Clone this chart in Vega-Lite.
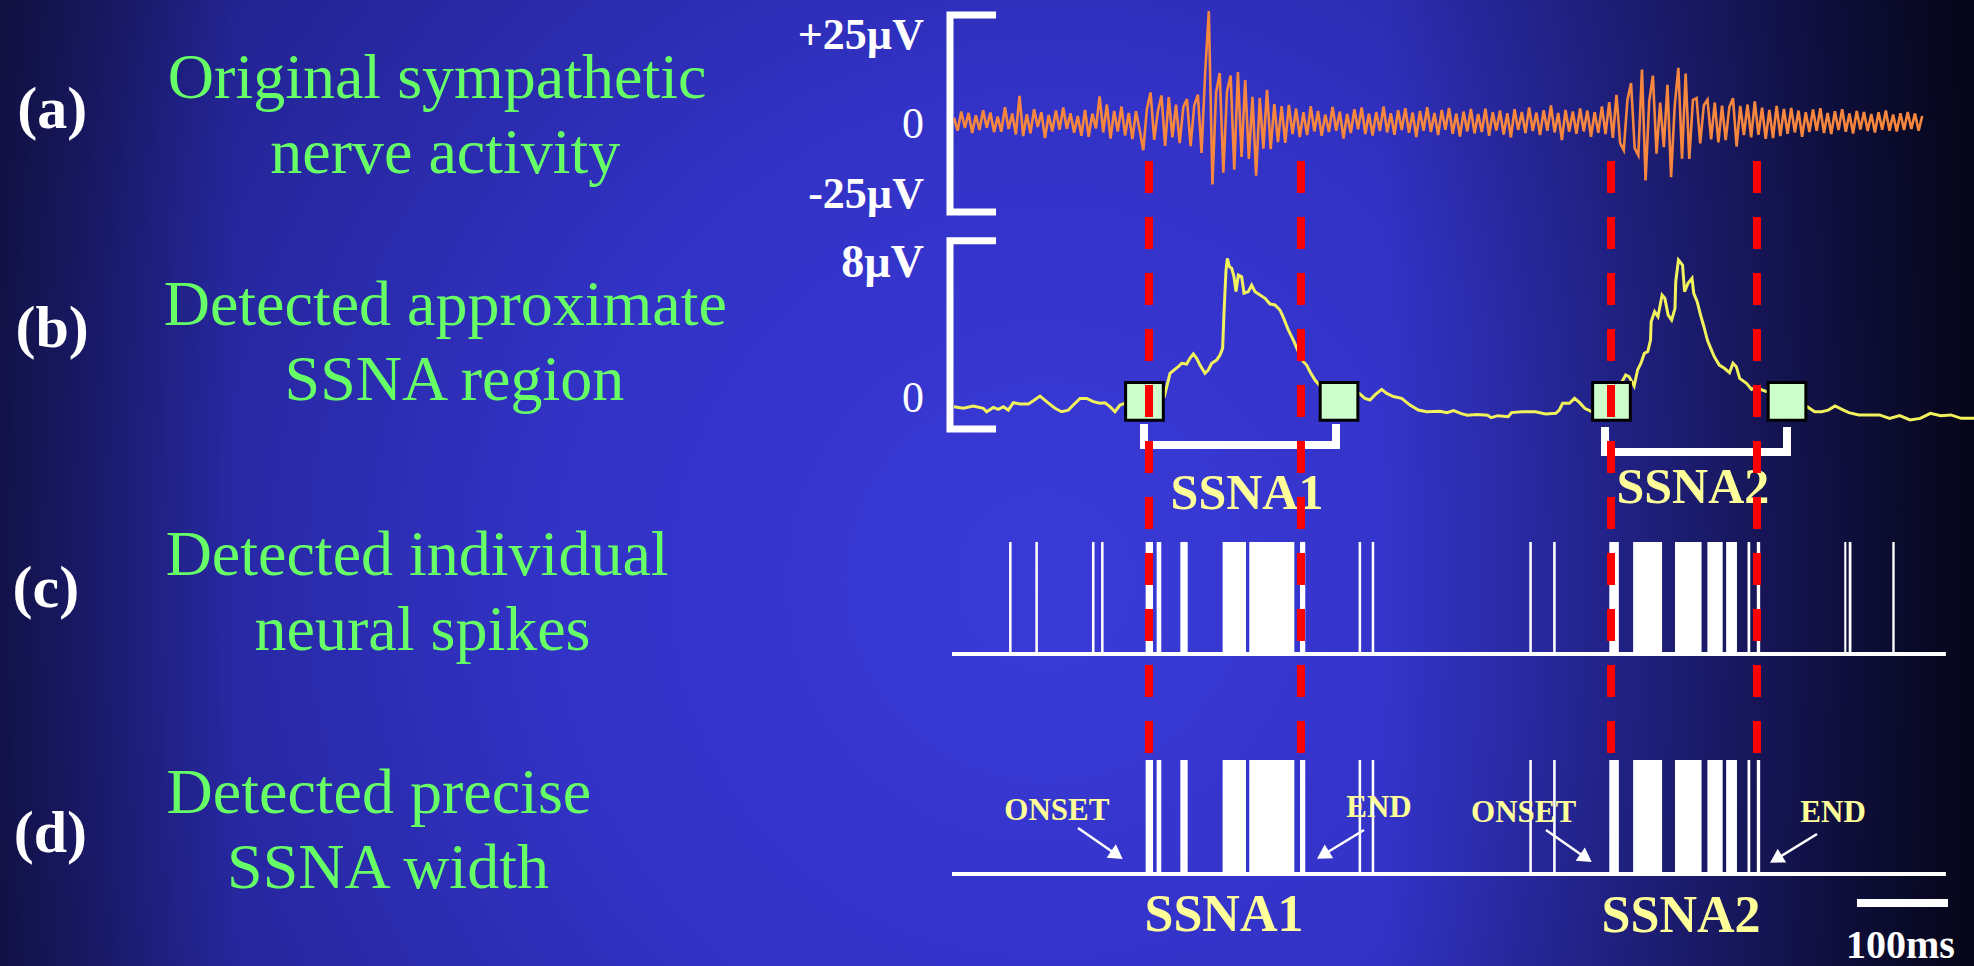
{
"$schema":"https://vega.github.io/schema/vega-lite/v6.json",
"width":1974,"height":966,"autosize":{"type":"none"},"padding":0,
"background":"#161650",
"config":{"view":{"stroke":null}},
"datasets":{
"frame":[{"t0":-1048.35,"t1":1120.88}],
"sigA":[{"t":0,"v":1.2},{"t":4,"v":-2.6},{"t":8,"v":3.1},{"t":12,"v":-1.8},{"t":16,"v":2.7},{"t":20,"v":-3.3},{"t":24,"v":2.0},{"t":28,"v":-2.4},{"t":32,"v":3.5},{"t":36,"v":-1.7},
{"t":40,"v":2.8},{"t":44,"v":-3.0},{"t":48,"v":1.6},{"t":52,"v":-2.9},{"t":56,"v":4.4},{"t":60,"v":-2.1},{"t":64,"v":2.5},{"t":68,"v":-3.7},{"t":72,"v":7.8},{"t":76,"v":-4.2},
{"t":80,"v":2.3},{"t":84,"v":-3.4},{"t":88,"v":3.8},{"t":92,"v":-1.5},{"t":96,"v":2.9},{"t":100,"v":-4.8},{"t":104,"v":2.1},{"t":108,"v":-2.8},{"t":112,"v":3.4},{"t":116,"v":-2.3},
{"t":120,"v":4.3},{"t":124,"v":-2.0},{"t":128,"v":2.6},{"t":132,"v":-3.2},{"t":136,"v":1.8},{"t":140,"v":-4.1},{"t":144,"v":3.6},{"t":148,"v":-4.4},{"t":152,"v":2.5},{"t":156,"v":-1.9},
{"t":160,"v":7.6},{"t":164,"v":-3.1},{"t":168,"v":5.2},{"t":172,"v":-4.9},{"t":176,"v":3.3},{"t":180,"v":-2.8},{"t":184,"v":4.6},{"t":188,"v":-4.0},{"t":192,"v":2.7},{"t":196,"v":-5.1},
{"t":200,"v":3.2},{"t":204,"v":-2.4},{"t":208,"v":-8.4},{"t":212,"v":3.9},{"t":216,"v":8.8},{"t":220,"v":-5.3},{"t":224,"v":3.1},{"t":228,"v":7.9},{"t":232,"v":-7.1},{"t":236,"v":7.4},
{"t":240,"v":-4.6},{"t":244,"v":5.2},{"t":248,"v":-6.3},{"t":252,"v":4.4},{"t":256,"v":6.8},{"t":260,"v":-7.2},{"t":264,"v":5.0},{"t":268,"v":8.1},{"t":272,"v":-9.2},{"t":276,"v":14.6},
{"t":280,"v":33.0},{"t":284,"v":-18.6},{"t":288,"v":8.7},{"t":292,"v":14.6},{"t":296,"v":-15.1},{"t":300,"v":9.1},{"t":304,"v":13.8},{"t":308,"v":-14.2},{"t":312,"v":14.9},{"t":316,"v":-10.4},
{"t":320,"v":12.5},{"t":324,"v":-11.0},{"t":328,"v":7.5},{"t":332,"v":-16.0},{"t":336,"v":7.2},{"t":340,"v":-7.9},{"t":344,"v":9.6},{"t":348,"v":-8.1},{"t":352,"v":5.3},{"t":356,"v":-6.0},
{"t":360,"v":4.7},{"t":364,"v":-6.2},{"t":368,"v":5.1},{"t":372,"v":-3.6},{"t":376,"v":4.0},{"t":380,"v":-4.5},{"t":384,"v":2.9},{"t":388,"v":-3.9},{"t":392,"v":4.7},{"t":396,"v":-2.8},
{"t":400,"v":3.3},{"t":404,"v":-4.1},{"t":408,"v":2.2},{"t":412,"v":-3.0},{"t":416,"v":4.5},{"t":420,"v":-2.6},{"t":424,"v":3.1},{"t":428,"v":-4.9},{"t":432,"v":2.4},{"t":436,"v":-3.3},
{"t":440,"v":3.8},{"t":444,"v":-2.2},{"t":448,"v":4.3},{"t":452,"v":-3.6},{"t":456,"v":2.5},{"t":460,"v":-4.0},{"t":464,"v":3.0},{"t":468,"v":-2.7},{"t":472,"v":4.6},{"t":476,"v":-3.1},
{"t":480,"v":2.6},{"t":484,"v":-3.8},{"t":488,"v":3.5},{"t":492,"v":-2.4},{"t":496,"v":4.1},{"t":500,"v":-3.2},{"t":504,"v":2.8},{"t":508,"v":-4.5},{"t":512,"v":3.3},{"t":516,"v":-2.6},
{"t":520,"v":4.4},{"t":524,"v":-3.0},{"t":528,"v":2.7},{"t":532,"v":-3.9},{"t":536,"v":3.6},{"t":540,"v":-2.3},{"t":544,"v":4.2},{"t":548,"v":-3.5},{"t":552,"v":2.5},{"t":556,"v":-4.3},
{"t":560,"v":3.1},{"t":564,"v":-2.8},{"t":568,"v":3.9},{"t":572,"v":-3.4},{"t":576,"v":2.4},{"t":580,"v":-3.0},{"t":584,"v":4.0},{"t":588,"v":-4.1},{"t":592,"v":2.9},{"t":596,"v":-2.5},
{"t":600,"v":3.4},{"t":604,"v":-3.7},{"t":608,"v":2.6},{"t":612,"v":-4.6},{"t":616,"v":3.8},{"t":620,"v":-2.4},{"t":624,"v":3.0},{"t":628,"v":-3.3},{"t":632,"v":4.3},{"t":636,"v":-2.7},
{"t":640,"v":2.8},{"t":644,"v":-3.9},{"t":648,"v":3.5},{"t":652,"v":-2.6},{"t":656,"v":4.9},{"t":660,"v":-3.1},{"t":664,"v":2.7},{"t":668,"v":-5.4},{"t":672,"v":3.6},{"t":676,"v":-2.9},
{"t":680,"v":3.1},{"t":684,"v":-3.5},{"t":688,"v":4.0},{"t":692,"v":-2.8},{"t":696,"v":3.4},{"t":700,"v":-4.4},{"t":704,"v":2.9},{"t":708,"v":-3.2},{"t":712,"v":4.6},{"t":716,"v":-3.6},
{"t":720,"v":5.9},{"t":724,"v":-4.7},{"t":728,"v":8.1},{"t":732,"v":-6.3},{"t":736,"v":-8.4},{"t":740,"v":6.5},{"t":744,"v":11.6},{"t":748,"v":-7.8},{"t":752,"v":-9.9},{"t":756,"v":15.6},
{"t":760,"v":-17.4},{"t":764,"v":6.2},{"t":768,"v":13.8},{"t":772,"v":-9.4},{"t":776,"v":5.8},{"t":780,"v":-7.5},{"t":784,"v":11.1},{"t":788,"v":-16.4},{"t":792,"v":4.8},{"t":796,"v":16.1},
{"t":800,"v":-10.9},{"t":804,"v":14.4},{"t":808,"v":-11.0},{"t":812,"v":6.5},{"t":816,"v":7.1},{"t":820,"v":-6.4},{"t":824,"v":5.0},{"t":828,"v":6.6},{"t":832,"v":-5.2},{"t":836,"v":5.8},
{"t":840,"v":-6.1},{"t":844,"v":4.9},{"t":848,"v":-5.4},{"t":852,"v":4.4},{"t":856,"v":7.1},{"t":860,"v":-7.3},{"t":864,"v":4.8},{"t":868,"v":-3.9},{"t":872,"v":5.2},{"t":876,"v":-4.6},
{"t":880,"v":6.1},{"t":884,"v":-3.8},{"t":888,"v":4.3},{"t":892,"v":-5.0},{"t":896,"v":3.6},{"t":900,"v":-4.8},{"t":904,"v":4.8},{"t":908,"v":-4.2},{"t":912,"v":3.9},{"t":916,"v":-3.5},
{"t":920,"v":4.2},{"t":924,"v":-3.1},{"t":928,"v":3.4},{"t":932,"v":-4.4},{"t":936,"v":2.9},{"t":940,"v":-3.0},{"t":944,"v":3.7},{"t":948,"v":-2.6},{"t":952,"v":4.1},{"t":956,"v":-3.3},
{"t":960,"v":2.7},{"t":964,"v":-3.6},{"t":968,"v":3.2},{"t":972,"v":-2.4},{"t":976,"v":3.8},{"t":980,"v":-2.9},{"t":984,"v":2.5},{"t":988,"v":-3.4},{"t":992,"v":3.3},{"t":996,"v":-2.2},
{"t":1000,"v":3.0},{"t":1004,"v":-2.7},{"t":1008,"v":2.4},{"t":1012,"v":-3.1},{"t":1016,"v":2.9},{"t":1020,"v":-2.3},{"t":1024,"v":3.4},{"t":1028,"v":-2.6},{"t":1032,"v":2.2},{"t":1036,"v":-2.8},
{"t":1040,"v":2.6},{"t":1044,"v":-2.4},{"t":1048,"v":3.0},{"t":1052,"v":-2.1},{"t":1056,"v":2.5},{"t":1060,"v":-2.6},{"t":1064,"v":1.8}],
"sigB":[{"t":0,"v":0},{"t":10.3,"v":-0.09},{"t":21.2,"v":0.04},{"t":32.2,"v":-0.09},{"t":35.9,"v":-0.28},{"t":43.2,"v":-0.04},{"t":48.7,"v":-0.15},{"t":54.2,"v":0},{"t":59.7,"v":-0.19},{"t":65.2,"v":0.22},{"t":72.5,"v":0.15},{"t":81.7,"v":0.15},{"t":87.2,"v":0.33},{"t":94.5,"v":0.59},{"t":101.8,"v":0.28},{"t":111.0,"v":-0.09},{"t":118.3,"v":-0.28},{"t":125.6,"v":-0.19},{"t":131.1,"v":0.09},{"t":138.5,"v":0.46},{"t":145.8,"v":0.46},{"t":153.1,"v":0.28},{"t":160.4,"v":0.19},{"t":165.9,"v":0.22},{"t":171.4,"v":0},{"t":176.9,"v":-0.28},{"t":182.4,"v":0.09},{"t":187.9,"v":0.19},{"t":204.4,"v":0.37},{"t":222.7,"v":0.46},{"t":231.1,"v":0.56},{"t":237.4,"v":1.85},{"t":241.0,"v":2.0},{"t":246.5,"v":2.22},{"t":250.2,"v":2.41},{"t":255.7,"v":2.37},{"t":259.3,"v":2.69},{"t":263.0,"v":2.93},{"t":266.7,"v":2.69},{"t":270.3,"v":2.31},{"t":275.8,"v":1.85},{"t":279.5,"v":2.04},{"t":283.2,"v":2.41},{"t":288.6,"v":2.59},{"t":292.3,"v":2.87},{"t":295.2,"v":3.24},{"t":296.7,"v":5.19},{"t":298.9,"v":7.59},{"t":300.4,"v":8.24},{"t":302.6,"v":7.78},{"t":305.1,"v":7.69},{"t":307.7,"v":7.22},{"t":309.9,"v":6.39},{"t":312.5,"v":7.31},{"t":316.1,"v":7.22},{"t":318.7,"v":6.30},{"t":323.4,"v":6.39},{"t":327.1,"v":6.76},{"t":330.8,"v":6.39},{"t":336.3,"v":6.20},{"t":341.8,"v":6.02},{"t":347.3,"v":5.70},{"t":352.7,"v":5.65},{"t":358.2,"v":5.37},{"t":361.9,"v":4.96},{"t":367.4,"v":4.26},{"t":372.9,"v":3.70},{"t":378.4,"v":3.06},{"t":383.9,"v":2.50},{"t":387.5,"v":2.31},{"t":391.2,"v":1.94},{"t":396.7,"v":1.48},{"t":401.5,"v":1.20},{"t":424.2,"v":0.93},{"t":445.4,"v":0.74},{"t":451.6,"v":0.46},{"t":457.1,"v":0.37},{"t":462.6,"v":0.65},{"t":470.0,"v":0.96},{"t":475.5,"v":0.74},{"t":482.8,"v":0.56},{"t":491.9,"v":0.46},{"t":501.1,"v":0.09},{"t":510.3,"v":-0.19},{"t":519.4,"v":-0.28},{"t":534.1,"v":-0.25},{"t":541.6,"v":-0.33},{"t":549.1,"v":-0.22},{"t":556.6,"v":-0.37},{"t":564.0,"v":-0.48},{"t":575.3,"v":-0.44},{"t":586.5,"v":-0.48},{"t":590.2,"v":-0.61},{"t":597.7,"v":-0.50},{"t":609.0,"v":-0.56},{"t":612.7,"v":-0.33},{"t":624.0,"v":-0.28},{"t":638.9,"v":-0.28},{"t":650.1,"v":-0.41},{"t":661.3,"v":-0.37},{"t":665.1,"v":-0.19},{"t":668.8,"v":0.19},{"t":676.3,"v":0.19},{"t":681.9,"v":0.46},{"t":687.5,"v":0.22},{"t":693.2,"v":-0.09},{"t":700.6,"v":-0.28},{"t":721.2,"v":0.19},{"t":738.1,"v":1.76},{"t":741.8,"v":1.67},{"t":747.4,"v":1.15},{"t":751.2,"v":2.04},{"t":754.9,"v":2.41},{"t":758.6,"v":2.96},{"t":762.4,"v":3.06},{"t":765.4,"v":3.70},{"t":766.1,"v":4.72},{"t":769.9,"v":5.28},{"t":773.6,"v":5.0},{"t":778.1,"v":6.20},{"t":781.1,"v":6.02},{"t":784.8,"v":5.09},{"t":788.6,"v":4.81},{"t":792.3,"v":5.46},{"t":793.1,"v":6.94},{"t":796.1,"v":8.15},{"t":800.6,"v":7.87},{"t":802.8,"v":6.39},{"t":806.6,"v":6.85},{"t":811.0,"v":7.13},{"t":812.9,"v":6.30},{"t":816.7,"v":5.83},{"t":820.4,"v":5.09},{"t":824.1,"v":4.44},{"t":827.9,"v":3.70},{"t":831.6,"v":3.24},{"t":835.4,"v":2.78},{"t":841.0,"v":2.31},{"t":846.6,"v":2.13},{"t":852.2,"v":1.89},{"t":856.0,"v":2.41},{"t":859.7,"v":2.22},{"t":863.4,"v":1.57},{"t":870.9,"v":1.30},{"t":876.5,"v":0.96},{"t":882.2,"v":1.11},{"t":887.8,"v":0.93},{"t":893.4,"v":0.83},{"t":915.8,"v":0.37},{"t":937.5,"v":0},{"t":945.8,"v":-0.28},{"t":953.3,"v":-0.28},{"t":960.7,"v":-0.19},{"t":968.2,"v":0.04},{"t":975.7,"v":-0.15},{"t":983.2,"v":-0.33},{"t":994.4,"v":-0.46},{"t":1005.7,"v":-0.46},{"t":1016.9,"v":-0.46},{"t":1028.1,"v":-0.65},{"t":1039.3,"v":-0.50},{"t":1050.6,"v":-0.74},{"t":1061.8,"v":-0.65},{"t":1073.0,"v":-0.37},{"t":1084.3,"v":-0.50},{"t":1095.5,"v":-0.46},{"t":1106.7,"v":-0.65},{"t":1120.9,"v":-0.65}],
"bracketA":[{"o":1,"t":46.2,"v":31.85},{"o":2,"t":-4.4,"v":31.85},{"o":3,"t":-4.4,"v":-26.8},{"o":4,"t":46.2,"v":-26.8}],
"bracketB":[{"o":1,"t":46.2,"v":9.21},{"o":2,"t":-4.4,"v":9.21},{"o":3,"t":-4.4,"v":-1.24},{"o":4,"t":46.2,"v":-1.24}],
"ssnaBr":[{"id":1,"o":1,"t":208.8,"v":-0.96},{"id":1,"o":2,"t":208.8,"v":-2.13},{"id":1,"o":3,"t":419.8,"v":-2.13},{"id":1,"o":4,"t":419.8,"v":-0.96},{"id":2,"o":1,"t":715.4,"v":-1.13},{"id":2,"o":2,"t":715.4,"v":-2.52},{"id":2,"o":3,"t":915.4,"v":-2.52},{"id":2,"o":4,"t":915.4,"v":-1.13}],
"boxes":[{"t":209.3,"v":0.29},{"t":423.1,"v":0.29},{"t":722.5,"v":0.29},{"t":915.4,"v":0.29}],
"spikes":[{"t0":60.5,"t1":63.3},{"t0":89.4,"t1":92.2},{"t0":151.6,"t1":154.4},{"t0":161.6,"t1":164.4},{"t0":210.6,"t1":218.7},{"t0":222.7,"t1":227.8},{"t0":248.7,"t1":256.8},{"t0":295.2,"t1":320.9},{"t0":324.5,"t1":374.0},{"t0":380.2,"t1":386.0},{"t0":444.6,"t1":447.4},{"t0":459.0,"t1":461.8},{"t0":632.2,"t1":635.0},{"t0":658.4,"t1":661.2},{"t0":720.1,"t1":730.6},{"t0":746.3,"t1":778.1},{"t0":792.3,"t1":821.5},{"t0":827.9,"t1":844.7},{"t0":848.5,"t1":860.4},{"t0":872.0,"t1":875.0},{"t0":882.2,"t1":885.9},{"t0":978.3,"t1":980.6},{"t0":983.2,"t1":986.2},{"t0":1031.1,"t1":1033.7}],
"axisLines":[{"t0":-2.2,"t1":1090}],
"onsets":[{"t":214.3},{"t":381.3},{"t":722.0},{"t":882.4}],
"arrows":[{"ta":136.3,"va":0.404,"tb":179.1,"vb":0.167,"ang":124.6},{"ta":450.5,"va":0.386,"tb":405.5,"vb":0.167,"ang":238.3},{"ta":650.5,"va":0.386,"tb":694.5,"vb":0.14,"ang":124.8},{"ta":948.4,"va":0.351,"tb":903.3,"vb":0.13,"ang":238.3}],
"scaleBar":[{"t0":992.3,"t1":1092.3,"v":-0.254}],
"labels":[
{"p":"a","k":"letter","s":"(a)","t":-991,"v":-1.79},
{"p":"a","k":"title","s":"Original sympathetic","t":-568,"v":7.14},
{"p":"a","k":"title","s":"nerve activity","t":-559,"v":-15.18},
{"p":"a","k":"unit","s":"+25µV","t":-33,"v":21.7},
{"p":"a","k":"zero","s":"0","t":-33,"v":-4.76},
{"p":"a","k":"unit","s":"-25µV","t":-33,"v":-25.6},
{"p":"b","k":"letter","s":"(b)","t":-991,"v":3.32},
{"p":"b","k":"title","s":"Detected approximate","t":-559,"v":4.54},
{"p":"b","k":"title","s":"SSNA region","t":-549,"v":0.37},
{"p":"b","k":"unit","s":"8µV","t":-33,"v":7.2},
{"p":"b","k":"zero","s":"0","t":-33,"v":-0.29},
{"p":"b","k":"ssna","s":"SSNA1","t":322,"v":-5.68},
{"p":"b","k":"ssna","s":"SSNA2","t":812,"v":-5.35},
{"p":"c","k":"letter","s":"(c)","t":-998,"v":0.42},
{"p":"c","k":"title","s":"Detected individual","t":-590,"v":0.705},
{"p":"c","k":"title","s":"neural spikes","t":-584,"v":0.036},
{"p":"d","k":"letter","s":"(d)","t":-993,"v":0.193},
{"p":"d","k":"title","s":"Detected precise","t":-632,"v":0.535},
{"p":"d","k":"title","s":"SSNA width","t":-622,"v":-0.123},
{"p":"d","k":"tag","s":"ONSET","t":113,"v":0.474},
{"p":"d","k":"tag","s":"END","t":467,"v":0.5},
{"p":"d","k":"tag","s":"ONSET","t":626,"v":0.456},
{"p":"d","k":"tag","s":"END","t":966,"v":0.456},
{"p":"d","k":"ssna","s":"SSNA1","t":296.7,"v":-0.5},
{"p":"d","k":"ssna","s":"SSNA2","t":799,"v":-0.509},
{"p":"d","k":"scale","s":"100ms","t":1040,"v":-0.74}
]},
"resolve":{"scale":{"y":"independent"}},
"layer":[
{"data":{"name":"frame"},"mark":{"type":"rect","fill":{"gradient":"radial","x1":0.53,"y1":0.55,"r1":0,"x2":0.53,"y2":0.55,"r2":0.72,"stops":[{"offset":0,"color":"#3a3ad8"},{"offset":0.35,"color":"#3232c6"},{"offset":0.7,"color":"#232392"},{"offset":1,"color":"#151550"}]}},
 "encoding":{"x":{"field":"t0","type":"quantitative","scale":{"domain":[-1048.35,1120.88],"nice":false,"zero":false},"axis":null},"x2":{"field":"t1"},"y":{"value":0},"y2":{"value":"height"}}},
{"data":{"name":"frame"},"mark":{"type":"rect","fill":{"gradient":"linear","x1":0,"y1":0,"x2":1,"y2":0,"stops":[{"offset":0,"color":"rgba(8,8,30,0.6)"},{"offset":0.12,"color":"rgba(8,8,30,0)"},{"offset":0.7,"color":"rgba(5,5,20,0)"},{"offset":0.86,"color":"rgba(5,5,20,0.45)"},{"offset":1,"color":"rgba(3,3,15,0.93)"}]}},
 "encoding":{"x":{"field":"t0","type":"quantitative","scale":{"domain":[-1048.35,1120.88],"nice":false,"zero":false},"axis":null},"x2":{"field":"t1"},"y":{"value":0},"y2":{"value":"height"}}},

{"data":{"name":"bracketA"},"mark":{"type":"line","color":"#ffffff","strokeWidth":7,"strokeJoin":"miter"},
 "encoding":{"x":{"field":"t","type":"quantitative","scale":{"domain":[-1048.35,1120.88],"nice":false,"zero":false},"axis":null},"y":{"field":"v","type":"quantitative","scale":{"domain":[-251.2,36.31],"nice":false,"zero":false},"axis":null},"order":{"field":"o"}}},
{"data":{"name":"sigA"},"mark":{"type":"line","color":"#f7873f","strokeWidth":2.6},
 "encoding":{"x":{"field":"t","type":"quantitative","scale":{"domain":[-1048.35,1120.88],"nice":false,"zero":false},"axis":null},"y":{"field":"v","type":"quantitative","scale":{"domain":[-251.2,36.31],"nice":false,"zero":false},"axis":null}}},

{"data":{"name":"bracketB"},"mark":{"type":"line","color":"#ffffff","strokeWidth":7,"strokeJoin":"miter"},
 "encoding":{"x":{"field":"t","type":"quantitative","scale":{"domain":[-1048.35,1120.88],"nice":false,"zero":false},"axis":null},"y":{"field":"v","type":"quantitative","scale":{"domain":[-31.07,22.59],"nice":false,"zero":false},"axis":null},"order":{"field":"o"}}},
{"data":{"name":"sigB"},"mark":{"type":"line","color":"#f2f25c","strokeWidth":3},
 "encoding":{"x":{"field":"t","type":"quantitative","scale":{"domain":[-1048.35,1120.88],"nice":false,"zero":false},"axis":null},"y":{"field":"v","type":"quantitative","scale":{"domain":[-31.07,22.59],"nice":false,"zero":false},"axis":null}}},
{"data":{"name":"boxes"},"mark":{"type":"point","shape":"square","filled":true,"size":1420,"fill":"#ccffcc","stroke":"#000000","strokeWidth":3,"opacity":1},
 "encoding":{"x":{"field":"t","type":"quantitative","scale":{"domain":[-1048.35,1120.88],"nice":false,"zero":false},"axis":null},"y":{"field":"v","type":"quantitative","scale":{"domain":[-31.07,22.59],"nice":false,"zero":false},"axis":null}}},
{"data":{"name":"ssnaBr"},"mark":{"type":"line","color":"#ffffff","strokeWidth":8,"strokeJoin":"miter"},
 "encoding":{"x":{"field":"t","type":"quantitative","scale":{"domain":[-1048.35,1120.88],"nice":false,"zero":false},"axis":null},"y":{"field":"v","type":"quantitative","scale":{"domain":[-31.07,22.59],"nice":false,"zero":false},"axis":null},"order":{"field":"o"},"detail":{"field":"id","type":"nominal"}}},

{"data":{"name":"axisLines"},"mark":{"type":"rule","color":"#ffffff","strokeWidth":4},
 "encoding":{"x":{"field":"t0","type":"quantitative","scale":{"domain":[-1048.35,1120.88],"nice":false,"zero":false},"axis":null},"x2":{"field":"t1"},"y":{"datum":0,"type":"quantitative","scale":{"domain":[-2.786,5.839],"nice":false,"zero":false},"axis":null}}},
{"data":{"name":"spikes"},"mark":{"type":"rect","color":"#ffffff"},
 "encoding":{"x":{"field":"t0","type":"quantitative","scale":{"domain":[-1048.35,1120.88],"nice":false,"zero":false},"axis":null},"x2":{"field":"t1"},"y":{"datum":1,"type":"quantitative","scale":{"domain":[-2.786,5.839],"nice":false,"zero":false},"axis":null},"y2":{"datum":0}}},

{"data":{"name":"axisLines"},"mark":{"type":"rule","color":"#ffffff","strokeWidth":4},
 "encoding":{"x":{"field":"t0","type":"quantitative","scale":{"domain":[-1048.35,1120.88],"nice":false,"zero":false},"axis":null},"x2":{"field":"t1"},"y":{"datum":0,"type":"quantitative","scale":{"domain":[-0.807,7.667],"nice":false,"zero":false},"axis":null}}},
{"data":{"name":"spikes"},"transform":[{"filter":"datum.t0 >= 205 && datum.t1 <= 890"}],"mark":{"type":"rect","color":"#ffffff"},
 "encoding":{"x":{"field":"t0","type":"quantitative","scale":{"domain":[-1048.35,1120.88],"nice":false,"zero":false},"axis":null},"x2":{"field":"t1"},"y":{"datum":1,"type":"quantitative","scale":{"domain":[-0.807,7.667],"nice":false,"zero":false},"axis":null},"y2":{"datum":0}}},
{"data":{"name":"scaleBar"},"mark":{"type":"rule","color":"#ffffff","strokeWidth":8},
 "encoding":{"x":{"field":"t0","type":"quantitative","scale":{"domain":[-1048.35,1120.88],"nice":false,"zero":false},"axis":null},"x2":{"field":"t1"},"y":{"field":"v","type":"quantitative","scale":{"domain":[-0.807,7.667],"nice":false,"zero":false},"axis":null}}},
{"data":{"name":"arrows"},"mark":{"type":"rule","color":"#ffffff","strokeWidth":2.5},
 "encoding":{"x":{"field":"ta","type":"quantitative","scale":{"domain":[-1048.35,1120.88],"nice":false,"zero":false},"axis":null},"x2":{"field":"tb"},"y":{"field":"va","type":"quantitative","scale":{"domain":[-0.807,7.667],"nice":false,"zero":false},"axis":null},"y2":{"field":"vb"}}},
{"data":{"name":"arrows"},"mark":{"type":"point","shape":"triangle-up","filled":true,"size":260,"color":"#ffffff","opacity":1},
 "encoding":{"x":{"field":"tb","type":"quantitative","scale":{"domain":[-1048.35,1120.88],"nice":false,"zero":false},"axis":null},"y":{"field":"vb","type":"quantitative","scale":{"domain":[-0.807,7.667],"nice":false,"zero":false},"axis":null},"angle":{"field":"ang","type":"quantitative","scale":null}}},

{"data":{"name":"labels"},"transform":[{"filter":"datum.p=='a' && datum.k=='title'"}],"mark":{"type":"text","align":"center","baseline":"alphabetic","font":"Liberation Serif","fontSize":64,"color":"#66ff66"},
 "encoding":{"x":{"field":"t","type":"quantitative","scale":{"domain":[-1048.35,1120.88],"nice":false,"zero":false},"axis":null},"y":{"field":"v","type":"quantitative","scale":{"domain":[-251.2,36.31],"nice":false,"zero":false},"axis":null},"text":{"field":"s"}}},
{"data":{"name":"labels"},"transform":[{"filter":"datum.p=='a' && datum.k=='letter'"}],"mark":{"type":"text","align":"center","baseline":"alphabetic","font":"Liberation Serif","fontWeight":"bold","fontSize":60,"color":"#ffffff"},
 "encoding":{"x":{"field":"t","type":"quantitative","scale":{"domain":[-1048.35,1120.88],"nice":false,"zero":false},"axis":null},"y":{"field":"v","type":"quantitative","scale":{"domain":[-251.2,36.31],"nice":false,"zero":false},"axis":null},"text":{"field":"s"}}},
{"data":{"name":"labels"},"transform":[{"filter":"datum.p=='a' && datum.k=='unit'"}],"mark":{"type":"text","align":"right","baseline":"alphabetic","font":"Liberation Serif","fontWeight":"bold","fontSize":44,"color":"#ffffff"},
 "encoding":{"x":{"field":"t","type":"quantitative","scale":{"domain":[-1048.35,1120.88],"nice":false,"zero":false},"axis":null},"y":{"field":"v","type":"quantitative","scale":{"domain":[-251.2,36.31],"nice":false,"zero":false},"axis":null},"text":{"field":"s"}}},
{"data":{"name":"labels"},"transform":[{"filter":"datum.p=='a' && datum.k=='zero'"}],"mark":{"type":"text","align":"right","baseline":"alphabetic","font":"Liberation Serif","fontSize":44,"color":"#ffffff"},
 "encoding":{"x":{"field":"t","type":"quantitative","scale":{"domain":[-1048.35,1120.88],"nice":false,"zero":false},"axis":null},"y":{"field":"v","type":"quantitative","scale":{"domain":[-251.2,36.31],"nice":false,"zero":false},"axis":null},"text":{"field":"s"}}},

{"data":{"name":"labels"},"transform":[{"filter":"datum.p=='b' && datum.k=='title'"}],"mark":{"type":"text","align":"center","baseline":"alphabetic","font":"Liberation Serif","fontSize":64,"color":"#66ff66"},
 "encoding":{"x":{"field":"t","type":"quantitative","scale":{"domain":[-1048.35,1120.88],"nice":false,"zero":false},"axis":null},"y":{"field":"v","type":"quantitative","scale":{"domain":[-31.07,22.59],"nice":false,"zero":false},"axis":null},"text":{"field":"s"}}},
{"data":{"name":"labels"},"transform":[{"filter":"datum.p=='b' && datum.k=='letter'"}],"mark":{"type":"text","align":"center","baseline":"alphabetic","font":"Liberation Serif","fontWeight":"bold","fontSize":60,"color":"#ffffff"},
 "encoding":{"x":{"field":"t","type":"quantitative","scale":{"domain":[-1048.35,1120.88],"nice":false,"zero":false},"axis":null},"y":{"field":"v","type":"quantitative","scale":{"domain":[-31.07,22.59],"nice":false,"zero":false},"axis":null},"text":{"field":"s"}}},
{"data":{"name":"labels"},"transform":[{"filter":"datum.p=='b' && datum.k=='unit'"}],"mark":{"type":"text","align":"right","baseline":"alphabetic","font":"Liberation Serif","fontWeight":"bold","fontSize":46,"color":"#ffffff"},
 "encoding":{"x":{"field":"t","type":"quantitative","scale":{"domain":[-1048.35,1120.88],"nice":false,"zero":false},"axis":null},"y":{"field":"v","type":"quantitative","scale":{"domain":[-31.07,22.59],"nice":false,"zero":false},"axis":null},"text":{"field":"s"}}},
{"data":{"name":"labels"},"transform":[{"filter":"datum.p=='b' && datum.k=='zero'"}],"mark":{"type":"text","align":"right","baseline":"alphabetic","font":"Liberation Serif","fontSize":44,"color":"#ffffff"},
 "encoding":{"x":{"field":"t","type":"quantitative","scale":{"domain":[-1048.35,1120.88],"nice":false,"zero":false},"axis":null},"y":{"field":"v","type":"quantitative","scale":{"domain":[-31.07,22.59],"nice":false,"zero":false},"axis":null},"text":{"field":"s"}}},
{"data":{"name":"labels"},"transform":[{"filter":"datum.p=='b' && datum.k=='ssna'"}],"mark":{"type":"text","align":"center","baseline":"alphabetic","font":"Liberation Serif","fontWeight":"bold","fontSize":50,"color":"#ffff99"},
 "encoding":{"x":{"field":"t","type":"quantitative","scale":{"domain":[-1048.35,1120.88],"nice":false,"zero":false},"axis":null},"y":{"field":"v","type":"quantitative","scale":{"domain":[-31.07,22.59],"nice":false,"zero":false},"axis":null},"text":{"field":"s"}}},

{"data":{"name":"labels"},"transform":[{"filter":"datum.p=='c' && datum.k=='title'"}],"mark":{"type":"text","align":"center","baseline":"alphabetic","font":"Liberation Serif","fontSize":64,"color":"#66ff66"},
 "encoding":{"x":{"field":"t","type":"quantitative","scale":{"domain":[-1048.35,1120.88],"nice":false,"zero":false},"axis":null},"y":{"field":"v","type":"quantitative","scale":{"domain":[-2.786,5.839],"nice":false,"zero":false},"axis":null},"text":{"field":"s"}}},
{"data":{"name":"labels"},"transform":[{"filter":"datum.p=='c' && datum.k=='letter'"}],"mark":{"type":"text","align":"center","baseline":"alphabetic","font":"Liberation Serif","fontWeight":"bold","fontSize":60,"color":"#ffffff"},
 "encoding":{"x":{"field":"t","type":"quantitative","scale":{"domain":[-1048.35,1120.88],"nice":false,"zero":false},"axis":null},"y":{"field":"v","type":"quantitative","scale":{"domain":[-2.786,5.839],"nice":false,"zero":false},"axis":null},"text":{"field":"s"}}},

{"data":{"name":"labels"},"transform":[{"filter":"datum.p=='d' && datum.k=='title'"}],"mark":{"type":"text","align":"center","baseline":"alphabetic","font":"Liberation Serif","fontSize":64,"color":"#66ff66"},
 "encoding":{"x":{"field":"t","type":"quantitative","scale":{"domain":[-1048.35,1120.88],"nice":false,"zero":false},"axis":null},"y":{"field":"v","type":"quantitative","scale":{"domain":[-0.807,7.667],"nice":false,"zero":false},"axis":null},"text":{"field":"s"}}},
{"data":{"name":"labels"},"transform":[{"filter":"datum.p=='d' && datum.k=='letter'"}],"mark":{"type":"text","align":"center","baseline":"alphabetic","font":"Liberation Serif","fontWeight":"bold","fontSize":60,"color":"#ffffff"},
 "encoding":{"x":{"field":"t","type":"quantitative","scale":{"domain":[-1048.35,1120.88],"nice":false,"zero":false},"axis":null},"y":{"field":"v","type":"quantitative","scale":{"domain":[-0.807,7.667],"nice":false,"zero":false},"axis":null},"text":{"field":"s"}}},
{"data":{"name":"labels"},"transform":[{"filter":"datum.p=='d' && datum.k=='tag'"}],"mark":{"type":"text","align":"center","baseline":"alphabetic","font":"Liberation Serif","fontWeight":"bold","fontSize":31,"color":"#ffff99"},
 "encoding":{"x":{"field":"t","type":"quantitative","scale":{"domain":[-1048.35,1120.88],"nice":false,"zero":false},"axis":null},"y":{"field":"v","type":"quantitative","scale":{"domain":[-0.807,7.667],"nice":false,"zero":false},"axis":null},"text":{"field":"s"}}},
{"data":{"name":"labels"},"transform":[{"filter":"datum.p=='d' && datum.k=='ssna'"}],"mark":{"type":"text","align":"center","baseline":"alphabetic","font":"Liberation Serif","fontWeight":"bold","fontSize":52,"color":"#ffff99"},
 "encoding":{"x":{"field":"t","type":"quantitative","scale":{"domain":[-1048.35,1120.88],"nice":false,"zero":false},"axis":null},"y":{"field":"v","type":"quantitative","scale":{"domain":[-0.807,7.667],"nice":false,"zero":false},"axis":null},"text":{"field":"s"}}},
{"data":{"name":"labels"},"transform":[{"filter":"datum.p=='d' && datum.k=='scale'"}],"mark":{"type":"text","align":"center","baseline":"alphabetic","font":"Liberation Serif","fontWeight":"bold","fontSize":40,"color":"#ffffff"},
 "encoding":{"x":{"field":"t","type":"quantitative","scale":{"domain":[-1048.35,1120.88],"nice":false,"zero":false},"axis":null},"y":{"field":"v","type":"quantitative","scale":{"domain":[-0.807,7.667],"nice":false,"zero":false},"axis":null},"text":{"field":"s"}}},

{"data":{"name":"onsets"},"mark":{"type":"rule","color":"#ff0000","strokeWidth":8,"strokeDash":[32,24]},
 "encoding":{"x":{"field":"t","type":"quantitative","scale":{"domain":[-1048.35,1120.88],"nice":false,"zero":false},"axis":null},"y":{"datum":6.254,"type":"quantitative","scale":{"domain":[-0.807,7.667],"nice":false,"zero":false},"axis":null},"y2":{"datum":1.044}}}
]}
